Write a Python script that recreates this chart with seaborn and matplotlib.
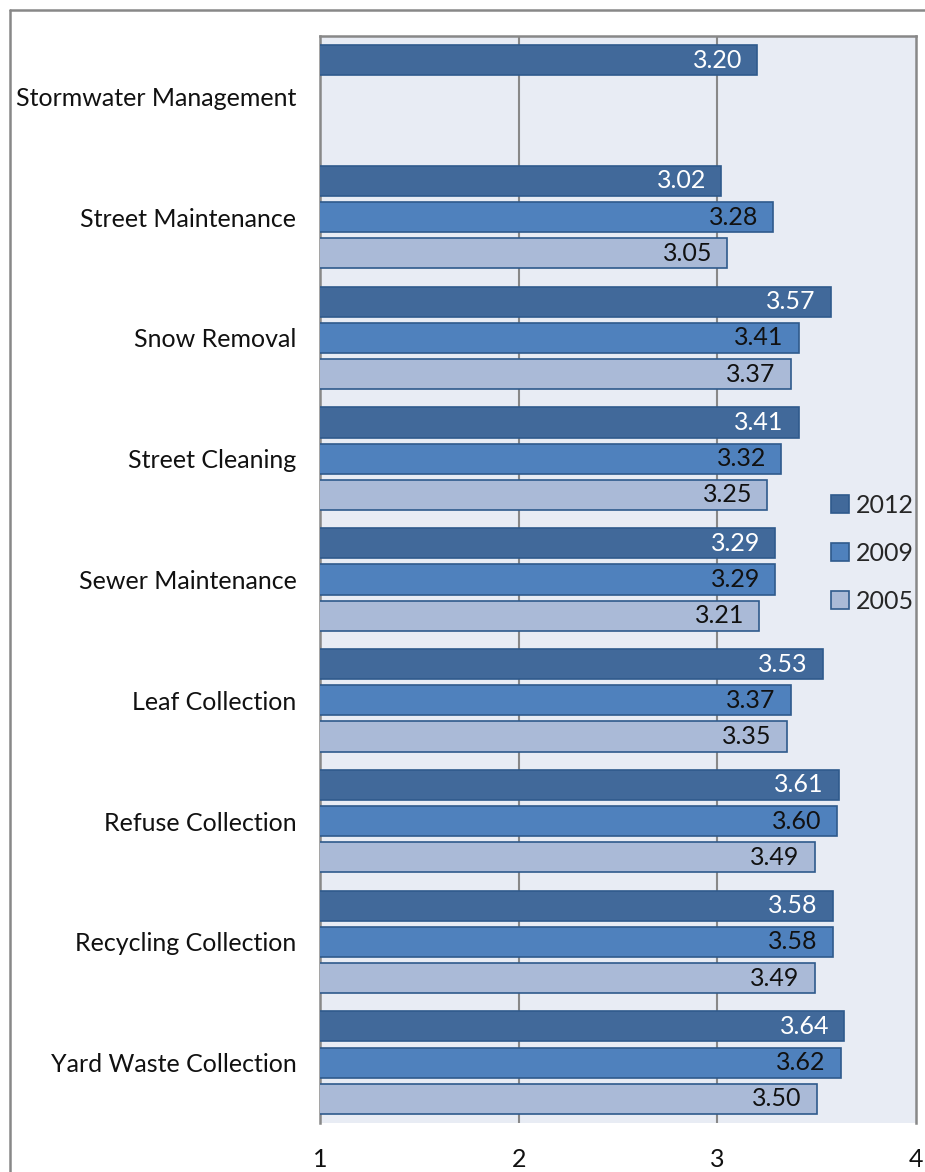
import matplotlib
matplotlib.use("Agg")
import matplotlib.pyplot as plt
import seaborn as sns
import pandas as pd
from matplotlib.lines import Line2D

categories = ["Stormwater Management", "Street Maintenance", "Snow Removal",
              "Street Cleaning", "Sewer Maintenance", "Leaf Collection",
              "Refuse Collection", "Recycling Collection", "Yard Waste Collection"]
years = ["2012", "2009", "2005"]
v2012 = [3.20, 3.02, 3.57, 3.41, 3.29, 3.53, 3.61, 3.58, 3.64]
v2009 = [None, 3.28, 3.41, 3.32, 3.29, 3.37, 3.60, 3.58, 3.62]
v2005 = [None, 3.05, 3.37, 3.25, 3.21, 3.35, 3.49, 3.49, 3.50]
xticks = [1, 2, 3, 4]

rows = []
for yr, vals in zip(years, [v2012, v2009, v2005]):
    for c, v in zip(categories, vals):
        if v is not None:
            rows.append({"Service": c, "Year": yr, "Value": v})
df = pd.DataFrame(rows)

sns.set_theme(style="white")
plt.rcParams['font.family'] = ['Lato', 'DejaVu Sans']

colors = {"2012": "#41699A", "2009": "#4F81BD", "2005": "#AABAD7"}
text_colors = {"2012": "white", "2009": "#111111", "2005": "#111111"}
edge = "#2F5A8C"

fig = plt.figure(figsize=(9.25, 11.72), dpi=100)
ax = fig.add_axes([320/925, 1 - 1123/1172, (916-320)/925, (1123-36)/1172])
ax.set_facecolor("#E8ECF4")

sns.barplot(data=df, y="Service", x="Value", hue="Year", order=categories,
            hue_order=years, palette=colors, saturation=1, orient="h",
            width=0.9, gap=0.17, edgecolor=edge, linewidth=1.2, ax=ax,
            legend=True, zorder=3)

ax.set_xlim(1, 4)
ax.set_ylim(len(categories) - 0.5, -0.5)
ax.set_xticks(xticks)
ax.set_xticklabels([str(t) for t in xticks], fontsize=18, color="#111111")
ax.tick_params(axis="x", length=0, pad=18)
ax.set_xlabel("")
ax.set_ylabel("")
ax.tick_params(axis="y", which="major", length=0, pad=17, labelsize=18, labelcolor="#111111")
ax.set_yticks([i + 0.5 for i in range(-1, len(categories))], minor=True)
ax.tick_params(axis="y", which="minor", length=8, width=1.5, color="#888888", direction="out")

ax.grid(False)
for x in [2, 3]:
    ax.axvline(x, color="#888888", linewidth=1.5, zorder=1)

for s in ["left", "top", "right"]:
    ax.spines[s].set_visible(True)
    ax.spines[s].set_color("#888888")
    ax.spines[s].set_linewidth(1.8)
ax.spines["bottom"].set_visible(False)

for cont, yr in zip(ax.containers, years):
    for bar in cont:
        w = bar.get_width()
        if w != w or w == 0:
            continue
        ax.annotate(f"{w:.2f}", xy=(w, bar.get_y() + bar.get_height() / 2),
                    xytext=(-15, 0), textcoords="offset pixels", ha="right",
                    va="center", fontsize=18, color=text_colors[yr], zorder=4)

leg = ax.legend(loc="center left", bbox_to_anchor=(0.84, 0.524), frameon=False,
                fontsize=18, handlelength=0.75, handleheight=0.75,
                handletextpad=0.25, labelspacing=1.0, borderaxespad=0)
for h in leg.legend_handles:
    h.set_edgecolor(edge)
    h.set_linewidth(1.2)

# outer chart border
fig.add_artist(Line2D([10/925, 1.01], [1 - 10/1172, 1 - 10/1172], transform=fig.transFigure,
                      color="#888888", linewidth=1.8))
fig.add_artist(Line2D([10/925, 10/925], [-0.01, 1 - 10/1172], transform=fig.transFigure,
                      color="#888888", linewidth=1.8))

fig.savefig("out.png", dpi=100, facecolor="white")
